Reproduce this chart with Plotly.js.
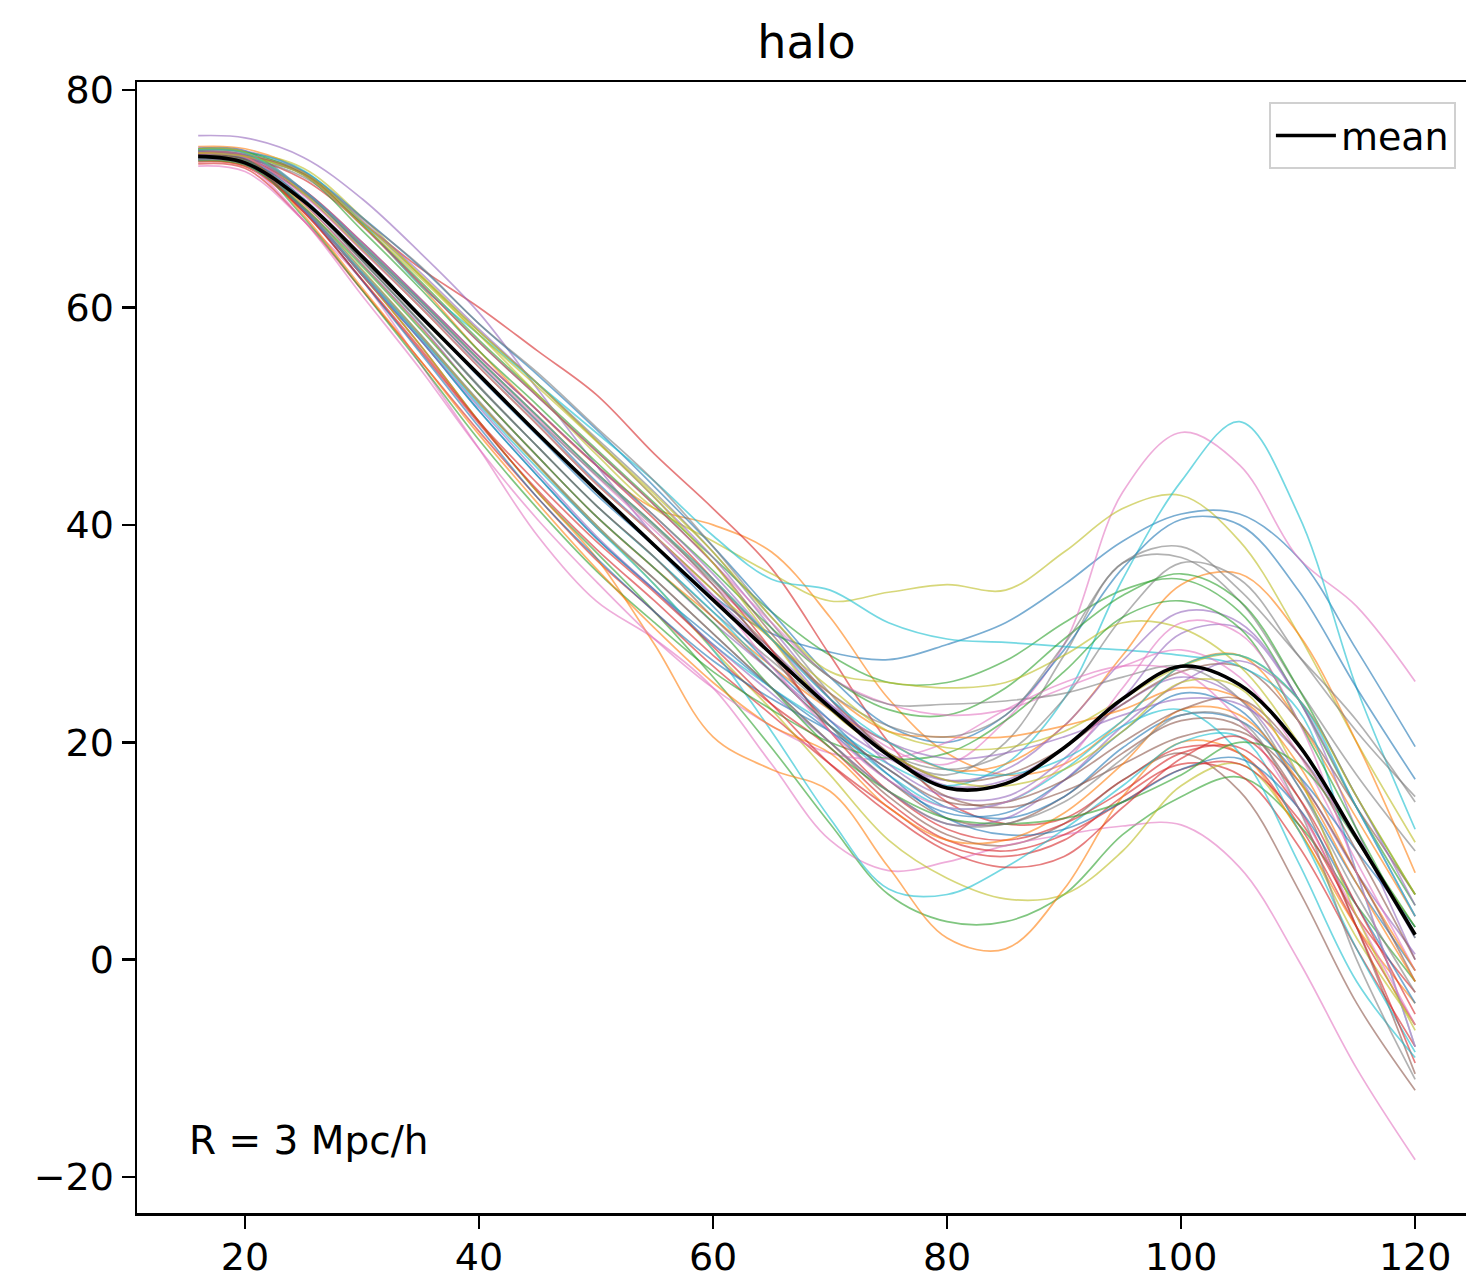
<!DOCTYPE html>
<html>
<head>
<meta charset="utf-8">
<script src="https://cdn.plot.ly/plotly-3.0.1.min.js"></script>
<style>
html, body { margin: 0; padding: 0; overflow: hidden; background: #fff; }
#chart { width: 1490px; height: 1281px; }
</style>
</head>
<body>
<div id="chart"></div>
<script>
// Separation grid (x values shared by all curves)
const xGrid = [16, 20, 25, 30, 35, 40, 45, 50, 55, 60, 65, 70, 75, 80, 85, 90, 95, 100, 105, 110, 115, 120];

// Mean curve
const meanValues = [73.9, 73.3, 69.8, 64.7, 59.2, 53.8, 48.4, 43.2, 38.1, 33.1, 28.1, 23.2, 18.8, 15.8, 16.2, 19.5, 24.0, 27.0, 25.3, 19.8, 11.2, 2.3];

// Individual realisations (one array per curve)
const r00 = [74.6, 74.4, 70.8, 65.5, 60.3, 54.8, 49.5, 44.0, 39.0, 33.5, 30.0, 28.3, 27.6, 29.0, 31.0, 34.5, 38.5, 41.0, 41.0, 37.0, 28.5, 19.6];
const r01 = [74.8, 74.6, 72.5, 67.6, 62.0, 56.0, 50.5, 45.5, 41.5, 40.0, 37.5, 31.5, 24.0, 19.0, 17.0, 18.0, 22.0, 27.0, 28.0, 22.0, 13.0, 4.0];
const r02 = [74.2, 73.9, 72.2, 67.6, 62.4, 57.0, 52.0, 47.0, 42.0, 37.0, 32.0, 28.0, 25.5, 25.5, 27.5, 31.0, 34.0, 35.0, 32.0, 24.0, 14.0, 5.0];
const r03 = [74.0, 73.8, 71.8, 67.8, 63.6, 60.0, 56.0, 52.0, 46.5, 41.5, 36.0, 28.0, 20.0, 14.5, 12.5, 13.0, 16.5, 19.5, 19.0, 12.5, 3.0, -6.0];
const r04 = [75.8, 75.6, 73.8, 70.0, 65.0, 59.5, 52.5, 45.5, 39.0, 33.5, 28.5, 23.5, 19.0, 16.0, 16.5, 19.5, 23.5, 26.0, 24.0, 17.0, 8.0, 0.5];
const r05 = [73.6, 73.2, 69.0, 63.2, 57.3, 51.2, 45.5, 39.8, 35.0, 30.0, 25.0, 20.0, 15.0, 11.5, 10.5, 12.5, 16.5, 19.0, 15.5, 6.5, -4.0, -12.0];
const r06 = [74.3, 74.0, 70.8, 65.8, 60.5, 55.0, 49.8, 44.5, 39.5, 34.5, 29.5, 24.0, 19.5, 18.0, 22.0, 29.0, 43.0, 48.5, 45.5, 37.0, 32.5, 25.6];
const r07 = [74.0, 73.7, 72.0, 67.8, 62.9, 57.8, 53.0, 48.0, 43.0, 37.5, 31.0, 24.5, 19.0, 17.0, 20.0, 28.0, 36.5, 37.0, 33.0, 25.0, 17.0, 10.0];
const r08 = [74.5, 74.3, 72.8, 68.3, 62.9, 57.5, 52.0, 46.5, 41.5, 38.5, 35.5, 33.0, 33.8, 34.5, 34.0, 37.5, 41.5, 42.7, 38.5, 30.0, 20.0, 10.8];
const r09 = [74.0, 73.6, 69.2, 63.0, 57.0, 50.5, 44.5, 38.8, 34.0, 29.0, 25.0, 21.5, 18.0, 16.0, 18.0, 24.0, 35.0, 44.0, 49.5, 41.0, 25.0, 12.0];
const r10 = [74.4, 74.1, 72.5, 68.3, 63.7, 58.5, 53.8, 48.8, 43.5, 38.0, 32.0, 26.0, 21.5, 20.0, 22.5, 28.5, 36.0, 40.5, 40.0, 34.0, 25.0, 16.6];
const r11 = [73.9, 73.5, 69.5, 64.0, 58.2, 52.0, 46.3, 40.8, 36.0, 31.5, 27.0, 23.0, 20.0, 17.5, 18.0, 21.5, 28.0, 34.5, 35.5, 30.0, 20.0, 8.0];
const r12 = [73.8, 73.4, 69.0, 63.0, 56.5, 49.5, 43.0, 37.5, 32.0, 26.0, 19.5, 12.5, 6.0, 3.5, 3.5, 6.0, 11.5, 15.0, 16.8, 12.5, 5.0, -2.0];
const r13 = [73.2, 72.8, 68.0, 61.6, 55.1, 48.6, 42.5, 36.8, 32.0, 27.0, 22.5, 18.0, 14.0, 10.5, 9.5, 11.0, 15.0, 18.0, 17.0, 10.5, 1.0, -8.0];
const r14 = [74.7, 74.4, 72.5, 68.0, 63.2, 58.0, 53.0, 47.8, 42.5, 37.0, 30.5, 24.0, 18.0, 15.0, 15.0, 18.5, 24.0, 30.0, 30.5, 24.0, 14.0, 4.0];
const r15 = [74.1, 73.8, 70.4, 65.3, 60.0, 54.5, 49.2, 43.8, 39.0, 34.0, 28.5, 23.0, 19.0, 16.5, 17.0, 19.5, 23.5, 26.5, 27.0, 22.0, 14.0, 6.0];
const r16 = [73.0, 72.5, 68.0, 62.5, 54.8, 47.0, 39.0, 33.0, 29.5, 25.0, 18.0, 11.0, 8.2, 9.0, 10.5, 11.5, 12.3, 12.4, 8.5, 0.0, -10.0, -18.4];
const r17 = [74.2, 73.9, 70.0, 64.4, 58.7, 52.8, 47.2, 41.8, 37.0, 32.0, 27.5, 23.0, 19.0, 17.5, 19.0, 24.0, 31.5, 36.5, 35.0, 28.0, 21.0, 15.0];
const r18 = [74.0, 73.6, 69.3, 63.5, 57.5, 51.3, 45.5, 40.0, 34.5, 28.5, 23.0, 17.0, 11.0, 7.5, 5.6, 6.0, 10.0, 16.0, 18.0, 12.0, 2.0, -6.0];
const r19 = [74.5, 74.3, 72.6, 67.8, 62.0, 57.5, 53.0, 48.5, 44.0, 39.0, 35.0, 34.0, 31.0, 29.5, 29.2, 28.8, 28.5, 28.0, 27.0, 23.0, 8.0, -8.0];
const r20 = [73.7, 73.3, 69.0, 63.0, 57.0, 50.5, 44.5, 38.8, 34.0, 29.5, 25.0, 21.0, 16.5, 13.5, 13.5, 16.5, 21.0, 24.5, 23.0, 16.0, 7.0, -1.0];
const r21 = [73.5, 73.0, 69.0, 63.0, 56.5, 49.5, 43.0, 37.0, 29.0, 20.5, 17.5, 15.5, 8.5, 2.0, 1.0, 6.5, 15.0, 20.0, 19.0, 12.0, 3.0, -4.0];
const r22 = [74.6, 74.3, 72.2, 67.1, 61.7, 56.0, 51.0, 45.8, 40.8, 35.8, 30.5, 26.0, 23.0, 22.5, 25.0, 29.5, 33.5, 35.5, 33.0, 25.0, 15.0, 6.0];
const r23 = [73.4, 73.0, 68.8, 62.5, 56.0, 49.3, 43.2, 37.8, 33.0, 28.0, 23.5, 19.5, 14.5, 11.0, 10.0, 11.5, 14.5, 17.5, 18.0, 13.0, 4.0, -3.0];
const r24 = [74.0, 73.7, 69.6, 64.0, 58.3, 52.0, 46.3, 40.8, 36.0, 31.0, 26.5, 22.0, 18.5, 16.5, 17.5, 21.5, 27.5, 32.0, 31.0, 24.0, 12.0, 0.0];
const r25 = [73.8, 73.4, 70.6, 65.7, 60.6, 55.2, 50.0, 44.8, 40.0, 34.5, 28.0, 21.5, 16.5, 13.0, 12.5, 15.0, 19.0, 22.0, 21.5, 15.0, 3.0, -10.5];
const r26 = [74.4, 74.1, 72.2, 67.5, 62.2, 56.8, 51.8, 46.8, 41.8, 36.5, 31.0, 26.0, 23.5, 22.5, 23.0, 25.0, 27.0, 28.5, 26.0, 19.0, 9.0, -1.0];
const r27 = [74.0, 73.6, 72.3, 68.2, 63.8, 58.5, 54.0, 49.0, 44.0, 38.0, 31.5, 26.0, 23.5, 23.5, 23.8, 24.5, 26.0, 27.0, 24.0, 16.0, 6.0, -3.0];
const r28 = [74.3, 74.0, 72.4, 67.9, 63.0, 57.8, 53.0, 47.8, 42.8, 37.5, 31.5, 26.5, 25.5, 25.0, 25.5, 28.0, 31.0, 30.5, 27.0, 20.0, 11.0, 3.0];
const r29 = [73.6, 73.2, 69.0, 63.2, 57.2, 51.0, 45.2, 39.8, 34.5, 28.5, 21.0, 13.0, 6.5, 6.0, 8.5, 12.0, 16.0, 20.0, 20.5, 12.0, 1.0, -8.5];
const r30 = [74.1, 73.8, 69.0, 62.5, 55.8, 49.0, 42.5, 37.0, 32.0, 27.5, 24.0, 21.0, 17.5, 14.0, 13.0, 15.0, 19.5, 22.5, 22.0, 17.0, 10.0, 3.0];
const r31 = [74.5, 74.2, 70.8, 65.8, 60.6, 55.2, 50.0, 44.8, 40.0, 35.0, 29.5, 24.5, 21.0, 20.5, 20.5, 21.5, 23.0, 25.0, 24.0, 18.0, 8.0, -1.0];
const r32 = [73.9, 73.6, 68.3, 61.6, 54.8, 47.8, 41.5, 35.8, 31.0, 26.5, 23.0, 20.0, 18.5, 19.0, 22.0, 26.5, 31.5, 33.0, 30.5, 22.0, 12.0, 2.0];
const r33 = [74.1, 73.7, 70.8, 66.0, 60.8, 55.5, 50.5, 45.5, 40.5, 35.0, 28.5, 21.0, 15.5, 12.0, 11.0, 12.5, 15.5, 19.0, 19.5, 14.0, 3.0, -9.5];
const r34 = [73.6, 73.2, 69.0, 63.0, 57.0, 50.8, 44.8, 39.0, 34.0, 29.0, 24.5, 20.0, 15.5, 12.5, 13.0, 16.5, 21.5, 25.5, 27.5, 24.0, 15.0, 5.0];
const r35 = [74.4, 74.0, 72.3, 67.6, 62.2, 56.8, 51.8, 46.8, 41.8, 36.5, 30.0, 24.0, 19.0, 15.0, 14.0, 15.5, 18.0, 20.5, 21.0, 16.5, 8.0, -2.0];
const r36 = [73.5, 73.1, 68.0, 61.1, 54.3, 47.0, 40.5, 34.8, 29.5, 25.0, 21.5, 19.0, 18.5, 20.0, 23.0, 25.5, 27.0, 26.5, 22.0, 14.0, 4.0, -6.0];
const r37 = [74.3, 74.0, 70.6, 65.6, 60.3, 54.8, 49.6, 44.6, 39.8, 34.8, 29.5, 24.5, 21.5, 20.5, 22.5, 29.0, 36.5, 38.0, 34.0, 28.0, 22.0, 14.5];
const r38 = [74.6, 74.3, 70.5, 65.3, 60.0, 54.5, 49.2, 43.8, 39.0, 34.0, 29.5, 25.0, 21.0, 19.5, 19.5, 21.0, 24.0, 27.0, 28.0, 24.0, 15.0, 6.0];
const r39 = [73.8, 73.5, 69.8, 64.3, 58.6, 52.7, 47.2, 41.8, 37.0, 32.0, 26.5, 21.5, 17.0, 14.0, 14.5, 17.5, 21.5, 23.0, 19.0, 9.0, -2.0, -9.0];
const r40 = [74.0, 73.7, 70.0, 64.7, 59.3, 53.6, 48.2, 42.8, 38.0, 32.5, 27.0, 22.0, 17.0, 13.0, 11.5, 12.0, 14.5, 17.5, 18.5, 14.0, 5.0, -4.0];
const r41 = [74.2, 73.9, 68.5, 61.8, 55.1, 48.3, 42.0, 36.0, 30.5, 25.5, 21.5, 19.0, 14.0, 11.0, 11.0, 13.5, 18.0, 23.0, 22.5, 16.5, 7.0, -2.0];
const r42 = [73.5, 73.1, 69.2, 63.8, 58.0, 52.0, 46.3, 40.8, 36.0, 31.0, 25.0, 19.5, 15.5, 13.0, 12.5, 13.0, 14.5, 17.0, 20.0, 18.0, 11.0, 3.0];
const r43 = [73.8, 73.4, 68.8, 62.6, 56.2, 49.5, 43.8, 38.5, 33.8, 28.8, 23.5, 18.0, 13.5, 10.0, 8.5, 9.5, 14.0, 18.5, 20.5, 15.0, 5.0, -5.0];
const r44 = [74.3, 74.0, 70.8, 66.0, 60.8, 55.5, 50.5, 45.5, 40.8, 35.5, 29.5, 23.5, 20.0, 18.5, 19.0, 20.5, 22.5, 24.0, 23.5, 19.0, 11.0, 2.0];
const r45 = [74.0, 73.6, 69.8, 64.3, 58.6, 52.7, 47.2, 41.8, 37.0, 31.5, 26.5, 21.5, 17.5, 14.5, 14.5, 16.5, 20.0, 23.0, 24.0, 19.0, 10.0, 0.0];
const r46 = [74.1, 73.8, 70.3, 65.2, 60.0, 54.5, 49.2, 43.8, 39.0, 33.5, 27.0, 21.0, 16.5, 14.0, 14.5, 18.0, 25.0, 31.0, 30.0, 22.0, 8.0, -8.0];
const r47 = [73.7, 73.3, 69.2, 63.4, 57.5, 51.4, 45.6, 40.0, 35.0, 30.0, 25.0, 20.0, 15.5, 12.5, 12.5, 14.5, 18.5, 22.5, 22.0, 14.0, 0.0, -11.0];
const r48 = [74.2, 73.9, 72.2, 67.6, 62.7, 57.5, 52.7, 47.7, 42.5, 36.5, 29.5, 23.0, 19.0, 16.5, 16.0, 17.5, 21.0, 25.5, 25.0, 17.0, 4.0, -6.5];
const r49 = [74.5, 74.2, 70.8, 65.8, 60.6, 55.2, 50.0, 44.8, 40.0, 35.0, 29.5, 24.0, 20.0, 17.5, 17.0, 18.5, 22.0, 27.0, 28.0, 24.0, 14.0, 4.0];

const realisations = [r00, r01, r02, r03, r04, r05, r06, r07, r08, r09,
                      r10, r11, r12, r13, r14, r15, r16, r17, r18, r19,
                      r20, r21, r22, r23, r24, r25, r26, r27, r28, r29,
                      r30, r31, r32, r33, r34, r35, r36, r37, r38, r39,
                      r40, r41, r42, r43, r44, r45, r46, r47, r48, r49];

const palette = ['#1f77b4', '#ff7f0e', '#2ca02c', '#d62728', '#9467bd',
                 '#8c564b', '#e377c2', '#7f7f7f', '#bcbd22', '#17becf'];

const xTickVals = [20, 40, 60, 80, 100, 120];
const yTickVals = [-20, 0, 20, 40, 60, 80];
const yTickText = ['\u221220', '0', '20', '40', '60', '80'];

const FONT = 'DejaVu Sans, Liberation Sans, sans-serif';

const traces = realisations.map((ys, i) => ({
  type: 'scatter', mode: 'lines', x: xGrid, y: ys,
  line: { color: palette[i % 10], width: 1.7, shape: 'spline', smoothing: 1 },
  opacity: 0.6, showlegend: false, hoverinfo: 'skip'
}));
traces.push({
  type: 'scatter', mode: 'lines', x: xGrid, y: meanValues, name: 'mean',
  line: { color: '#000000', width: 3.6, shape: 'spline', smoothing: 1 },
  showlegend: true, hoverinfo: 'skip'
});

const layout = {
  width: 1490, height: 1281,
  margin: { l: 137, r: 14, t: 82, b: 68, pad: 0 },
  paper_bgcolor: '#ffffff', plot_bgcolor: '#ffffff',
  font: { family: FONT, size: 38, color: '#000000' },
  title: { text: 'halo', font: { family: FONT, size: 46, color: '#000000' },
           x: 0.5, xref: 'paper', y: 1 - 42 / 1281, yref: 'container', yanchor: 'middle' },
  xaxis: {
    range: [10.77, 125.2], tickvals: xTickVals, ticktext: xTickVals.map(String),
    showgrid: false, zeroline: false, showline: true, mirror: true,
    linecolor: '#000000', linewidth: 2.5, ticks: 'outside', ticklen: 13, tickwidth: 2.5,
    tickcolor: '#000000', ticklabelstandoff: -4,
    tickfont: { family: FONT, size: 38, color: '#000000' }
  },
  yaxis: {
    range: [-23.3, 80.74], tickvals: yTickVals, ticktext: yTickText,
    showgrid: false, zeroline: false, showline: true, mirror: true,
    linecolor: '#000000', linewidth: 2.5, ticks: 'outside', ticklen: 13, tickwidth: 2.5,
    tickcolor: '#000000', tickfont: { family: FONT, size: 38, color: '#000000' }
  },
  legend: {
    x: 0.985, xanchor: 'right', y: 0.982, yanchor: 'top',
    bgcolor: 'rgba(255,255,255,0.8)', bordercolor: '#d0d0d0', borderwidth: 2,
    font: { family: FONT, size: 38, color: '#000000' }, itemwidth: 60
  },
  annotations: [{
    text: 'R = 3 Mpc/h', xref: 'paper', yref: 'paper', x: 0.037, y: 0.0645,
    xanchor: 'left', yanchor: 'middle', showarrow: false,
    font: { family: FONT, size: 39, color: '#000000' }
  }],
  showlegend: true, hovermode: false
};

Plotly.newPlot('chart', traces, layout, { staticPlot: true, displayModeBar: false });
</script>
</body>
</html>
